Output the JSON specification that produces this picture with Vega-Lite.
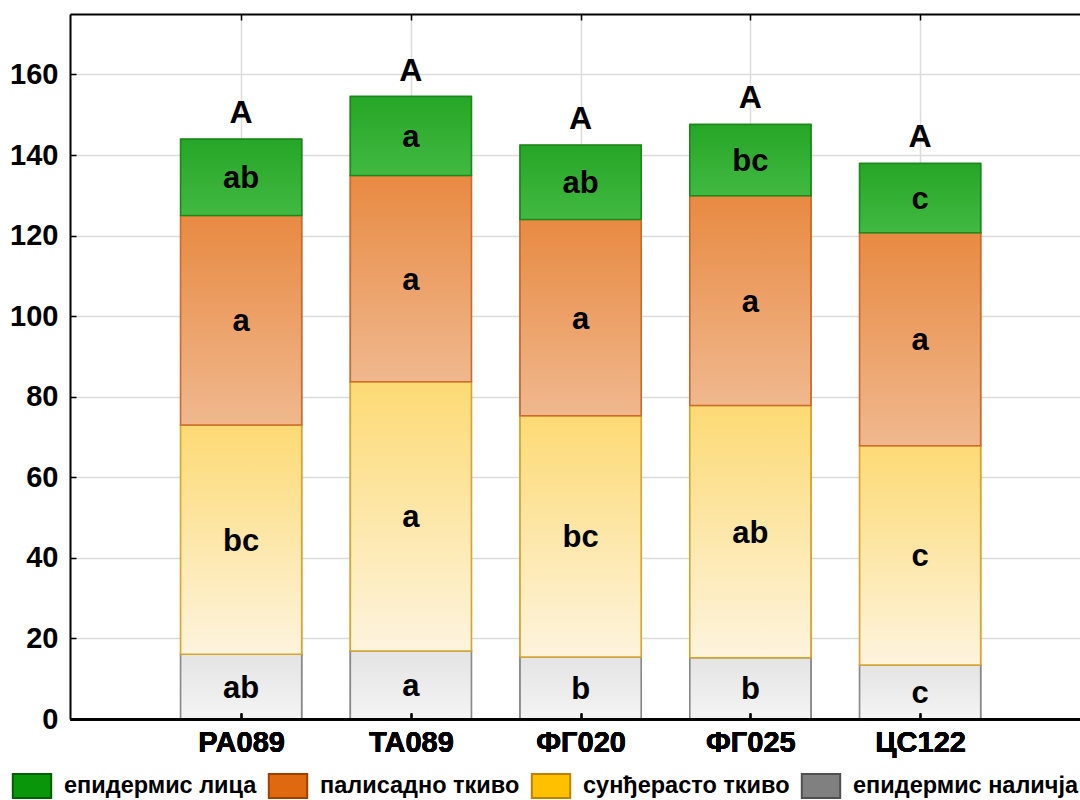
{
  "$schema": "https://vega.github.io/schema/vega-lite/v6.json",
  "width": 1010,
  "height": 705,
  "autosize": "none",
  "padding": {"left": 70, "top": 14, "right": 0, "bottom": 81},
  "background": "white",
  "config": {"view": {"stroke": null}, "font": "Liberation Sans"},
  "data": {
    "values": [
      {"g": "PA089", "layer": "епидермис наличја", "v": 16.1, "lbl": "ab"},
      {"g": "PA089", "layer": "сунђерасто ткиво", "v": 56.9, "lbl": "bc"},
      {"g": "PA089", "layer": "палисадно ткиво", "v": 52.0, "lbl": "a"},
      {"g": "PA089", "layer": "епидермис лица", "v": 18.9, "lbl": "ab", "top": "A"},
      {"g": "TA089", "layer": "епидермис наличја", "v": 16.9, "lbl": "a"},
      {"g": "TA089", "layer": "сунђерасто ткиво", "v": 66.8, "lbl": "a"},
      {"g": "TA089", "layer": "палисадно ткиво", "v": 51.2, "lbl": "a"},
      {"g": "TA089", "layer": "епидермис лица", "v": 19.6, "lbl": "a", "top": "A"},
      {"g": "ФГ020", "layer": "епидермис наличја", "v": 15.4, "lbl": "b"},
      {"g": "ФГ020", "layer": "сунђерасто ткиво", "v": 59.9, "lbl": "bc"},
      {"g": "ФГ020", "layer": "палисадно ткиво", "v": 48.7, "lbl": "a"},
      {"g": "ФГ020", "layer": "епидермис лица", "v": 18.4, "lbl": "ab", "top": "A"},
      {"g": "ФГ025", "layer": "епидермис наличја", "v": 15.2, "lbl": "b"},
      {"g": "ФГ025", "layer": "сунђерасто ткиво", "v": 62.6, "lbl": "ab"},
      {"g": "ФГ025", "layer": "палисадно ткиво", "v": 52.1, "lbl": "a"},
      {"g": "ФГ025", "layer": "епидермис лица", "v": 17.7, "lbl": "bc", "top": "A"},
      {"g": "ЦС122", "layer": "епидермис наличја", "v": 13.4, "lbl": "c"},
      {"g": "ЦС122", "layer": "сунђерасто ткиво", "v": 54.4, "lbl": "c"},
      {"g": "ЦС122", "layer": "палисадно ткиво", "v": 52.9, "lbl": "a"},
      {"g": "ЦС122", "layer": "епидермис лица", "v": 17.2, "lbl": "c", "top": "A"}
    ]
  },
  "transform": [
    {"stack": "v", "groupby": ["g"], "as": ["y0", "y1"]},
    {"calculate": "(datum.y0 + datum.y1) / 2", "as": "mid"}
  ],
  "encoding": {
    "x": {
      "field": "g",
      "type": "nominal",
      "sort": null,
      "scale": {"type": "point", "domain": ["PA089", "TA089", "ФГ020", "ФГ025", "ЦС122"], "padding": 0.975, "align": 0.517},
      "axis": {"orient": "bottom", "title": null, "labelAngle": 0, "labelFont": "Liberation Sans", "labelFontWeight": "bold", "labelFontSize": 29, "labelColor": "black", "domainColor": "black", "domainWidth": 2, "tickColor": "black", "tickSize": -6, "tickWidth": 1.5, "labelPadding": 15, "grid": false, "zindex": 1}
    },
    "y": {
      "field": "y0",
      "type": "quantitative",
      "scale": {"domain": [0, 175], "nice": false, "zero": true},
      "axis": {"title": null, "values": [0, 20, 40, 60, 80, 100, 120, 140, 160], "labelFont": "Liberation Sans", "labelFontWeight": "bold", "labelFontSize": 29, "labelColor": "black", "domainColor": "black", "domainWidth": 2, "tickColor": "black", "tickSize": -6, "tickWidth": 1.5, "labelPadding": 18, "grid": true, "gridColor": "#dcdcdc", "gridWidth": 1.5, "zindex": 0}
    }
  },
  "layer": [
    {
      "mark": {"type": "bar", "width": 121, "strokeWidth": 1.5},
      "encoding": {
        "y2": {"field": "y1"},
        "color": {
          "field": "layer", "type": "nominal",
          "scale": {"domain": ["епидермис лица", "палисадно ткиво", "сунђерасто ткиво", "епидермис наличја"], "range": ["#0a960a", "#e0680f", "#ffc000", "#808080"]},
          "legend": {"orient": "none", "legendX": -51, "legendY": 759, "direction": "horizontal", "title": null, "symbolType": "M-1.6,-1H1.6V1H-1.6Z", "symbolSize": 576, "symbolStrokeWidth": 2, "labelFont": "Liberation Sans", "labelFontWeight": "bold", "labelFontSize": 23.5, "labelColor": "black", "labelLimit": 0, "columnPadding": 7, "labelOffset": 19, "padding": 0}
        },
        "stroke": {
          "field": "layer", "type": "nominal",
          "scale": {"domain": ["епидермис лица", "палисадно ткиво", "сунђерасто ткиво", "епидермис наличја"], "range": ["#006000", "#a04000", "#c08000", "#505050"]},
          "legend": {"orient": "none", "legendX": -51, "legendY": 759, "direction": "horizontal", "title": null, "symbolType": "M-1.6,-1H1.6V1H-1.6Z", "symbolSize": 576, "symbolStrokeWidth": 2, "labelFont": "Liberation Sans", "labelFontWeight": "bold", "labelFontSize": 23.5, "labelColor": "black", "labelLimit": 0, "columnPadding": 7, "labelOffset": 19, "padding": 0}
        }
      }
    },
    {
      "transform": [{"filter": "datum.layer === 'епидермис наличја'"}],
      "mark": {"type": "bar", "width": 121, "strokeWidth": 1.5, "stroke": "#8a8a8a",
        "color": {"gradient": "linear", "x1": 0, "y1": 0, "x2": 0, "y2": 1, "stops": [{"offset": 0, "color": "#e4e4e4"}, {"offset": 1, "color": "#f4f4f4"}]}},
      "encoding": {"y2": {"field": "y1"}}
    },
    {
      "transform": [{"filter": "datum.layer === 'сунђерасто ткиво'"}],
      "mark": {"type": "bar", "width": 121, "strokeWidth": 1.5, "stroke": "#dba52a",
        "color": {"gradient": "linear", "x1": 0, "y1": 0, "x2": 0, "y2": 1, "stops": [{"offset": 0, "color": "#fdda74"}, {"offset": 1, "color": "#fdf4de"}]}},
      "encoding": {"y2": {"field": "y1"}}
    },
    {
      "transform": [{"filter": "datum.layer === 'палисадно ткиво'"}],
      "mark": {"type": "bar", "width": 121, "strokeWidth": 1.5, "stroke": "#cf6a2a",
        "color": {"gradient": "linear", "x1": 0, "y1": 0, "x2": 0, "y2": 1, "stops": [{"offset": 0, "color": "#e88a42"}, {"offset": 1, "color": "#f0b88e"}]}},
      "encoding": {"y2": {"field": "y1"}}
    },
    {
      "transform": [{"filter": "datum.layer === 'епидермис лица'"}],
      "mark": {"type": "bar", "width": 121, "strokeWidth": 1.5, "stroke": "#1a8a1a",
        "color": {"gradient": "linear", "x1": 0, "y1": 0, "x2": 0, "y2": 1, "stops": [{"offset": 0, "color": "#26a626"}, {"offset": 1, "color": "#42b942"}]}},
      "encoding": {"y2": {"field": "y1"}}
    },
    {
      "mark": {"type": "text", "font": "Liberation Sans", "fontWeight": "bold", "fontSize": 31, "baseline": "middle", "dy": 2, "color": "black"},
      "encoding": {
        "y": {"field": "mid", "type": "quantitative"},
        "text": {"field": "lbl"}
      }
    },
    {
      "transform": [{"filter": "datum.layer === 'епидермис лица'"}],
      "mark": {"type": "text", "font": "Liberation Sans", "fontWeight": "bold", "fontSize": 32, "baseline": "alphabetic", "dy": -16, "color": "black"},
      "encoding": {
        "x": {
          "field": "g", "type": "nominal", "sort": null,
          "axis": {"orient": "top", "title": null, "labels": false, "domainColor": "black", "domainWidth": 2, "tickColor": "black", "tickSize": -6, "tickWidth": 1.5, "grid": true, "gridColor": "#dcdcdc", "gridWidth": 1.5, "zindex": 0}
        },
        "y": {"field": "y1", "type": "quantitative"},
        "text": {"field": "top"}
      }
    }
  ]
}
